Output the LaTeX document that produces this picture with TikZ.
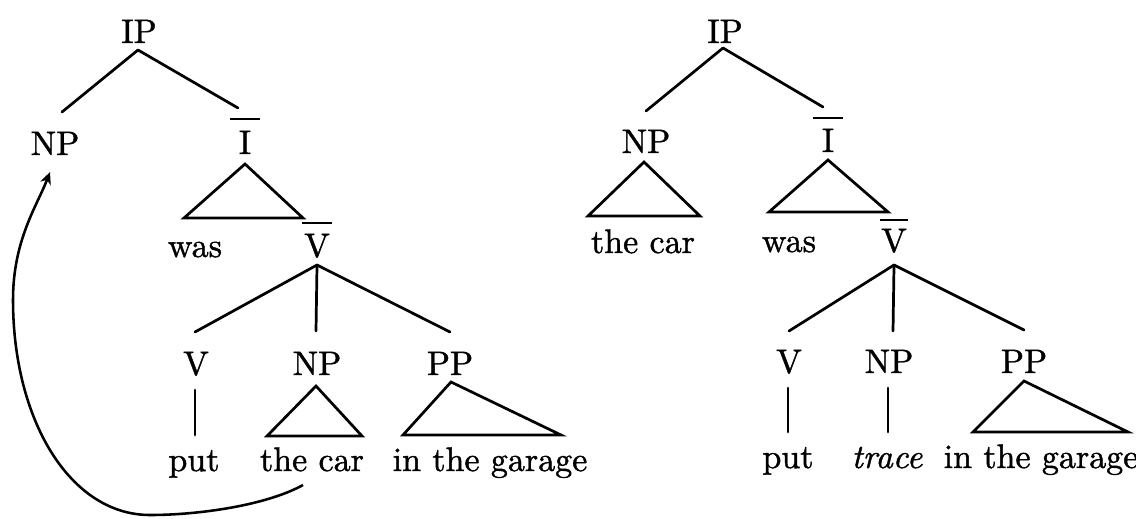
\documentclass[tikz,border=0pt]{standalone}
\usepackage{fontspec}
\setmainfont{lmroman10-regular.otf}[ItalicFont=lmroman10-italic.otf, RawFeature={embolden=1.2}]
\usetikzlibrary{calc,arrows.meta}
\begin{document}
\begin{tikzpicture}[x=0.29412pt,y=-0.29412pt,
  lab/.style={anchor=base,inner sep=0pt},
  edge/.style={line width=0.8pt,line cap=round},
  tri/.style={line width=0.8pt,line join=miter},
  barline/.style={line width=0.75pt},
  movearrow/.style={line width=0.75pt,-{Stealth[length=3.6pt,width=3.2pt]}}]
\useasboundingbox (0,0) rectangle (1136,518);

% ---------- left tree ----------
\node[lab] (IP1) at (139,43) {IP};
\node[lab] (NP1) at (55,155) {NP};
\node[lab] (Ib1) at (245,154) {I};
\node[lab] (was1) at (195,257) {was};
\node[lab] (Vb1) at (317,257) {V};
\node[lab] (V1) at (196,375) {V};
\node[lab] (NP2) at (317,375) {NP};
\node[lab] (PP1) at (450,375) {PP};
\node[lab] (put1) at (194,471) {put};
\node[lab] (car1) at (312,471) {the car};
\node[lab] (gar1) at (490,471) {in the garage};

\draw[barline] ($(Ib1.base)+(-15,-35)$) -- ++(30,0);
\draw[barline] ($(Vb1.base)+(-15,-34)$) -- ++(30,0);

\draw[edge] ($(IP1.base)+(-1,7)$) -- ($(NP1.base)+(7,-43)$);
\draw[edge] ($(IP1.base)+(-1,7)$) -- ($(Ib1.base)+(-7,-46)$);
\draw[tri] (245,164) -- (184,218) -- (303,218) -- cycle;
\draw[edge] ($(Vb1.base)+(0,8)$) -- ($(V1.base)+(-1,-43)$);
\draw[edge] ($(Vb1.base)+(0,8)$) -- ($(NP2.base)+(-1,-44)$);
\draw[edge] ($(Vb1.base)+(0,8)$) -- ($(PP1.base)+(0,-43)$);
\draw[edge] ($(V1.base)+(-1,15)$) -- ($(put1.base)+(1,-36)$);
\draw[tri] (316,386) -- (267,436) -- (362,436) -- cycle;
\draw[tri] (451,382) -- (403,435) -- (561,435) -- cycle;

\coordinate (arcS) at ($(car1.base)+(-9,14)$);
\coordinate (arcT) at ($(NP1.base)+(-5,17)$);
\draw[movearrow] (arcS) .. controls (267,505) and (200,515) .. (150,515)
  .. controls (70,515) and (13,420) .. (13,300)
  .. controls (13,240) and (37,206) .. (arcT);

% ---------- right tree ----------
\node[lab] (IP2) at (725,43) {IP};
\node[lab] (NP3) at (646,153) {NP};
\node[lab] (Ib2) at (828,152) {I};
\node[lab] (car2) at (643,253) {the car};
\node[lab] (was2) at (789,252) {was};
\node[lab] (Vb2) at (894,252) {V};
\node[lab] (V2) at (789,373) {V};
\node[lab] (NP4) at (889,373) {NP};
\node[lab] (PP2) at (1024,373) {PP};
\node[lab] (put2) at (788,468) {put};
\node[lab] (tr) at (887,468) {\textit{trace}};
\node[lab] (gar2) at (1041,468) {in the garage};

\draw[barline] ($(Ib2.base)+(-15,-34)$) -- ++(30,0);
\draw[barline] ($(Vb2.base)+(-14,-32)$) -- ++(28,0);

\draw[edge] ($(IP2.base)+(-2,5)$) -- ($(NP3.base)+(0,-42)$);
\draw[edge] ($(IP2.base)+(-2,5)$) -- ($(Ib2.base)+(-5,-45)$);
\draw[tri] (644,162) -- (588,216) -- (700,216) -- cycle;
\draw[tri] (828,160) -- (769,212) -- (888,212) -- cycle;
\draw[edge] ($(Vb2.base)+(0,13)$) -- ($(V2.base)+(0,-42)$);
\draw[edge] ($(Vb2.base)+(0,13)$) -- ($(NP4.base)+(4,-42)$);
\draw[edge] ($(Vb2.base)+(0,13)$) -- ($(PP2.base)+(0,-43)$);
\draw[edge] ($(V2.base)+(-1,15)$) -- ($(put2.base)+(0,-36)$);
\draw[edge] ($(NP4.base)+(-1,15)$) -- ($(tr.base)+(1,-36)$);
\draw[tri] (1024,381) -- (973,432) -- (1128,432) -- cycle;
\end{tikzpicture}
\end{document}
